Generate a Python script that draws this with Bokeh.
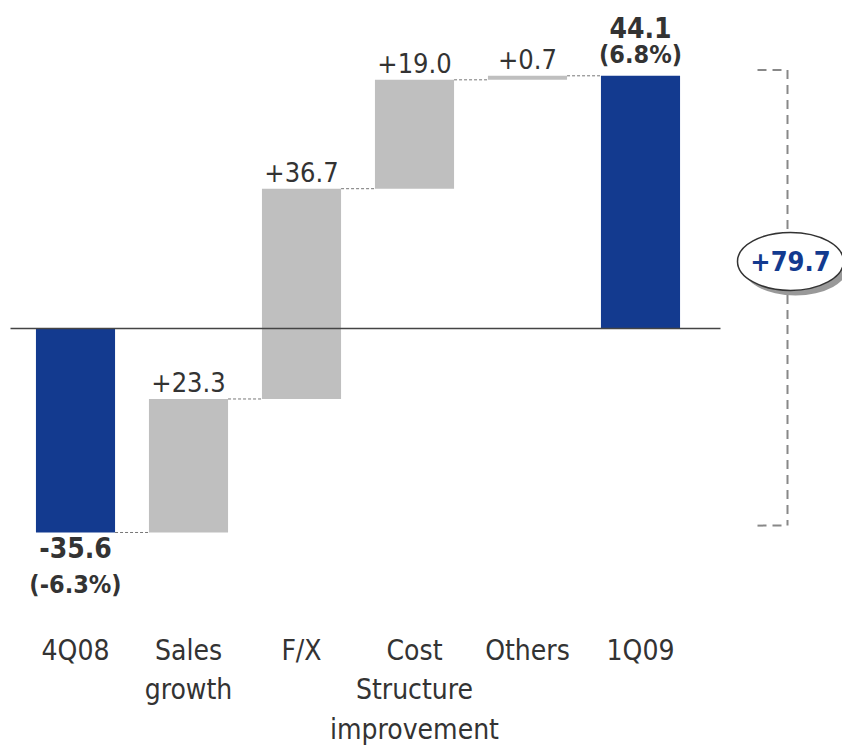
from bokeh.plotting import figure
from bokeh.models import Range1d
from bokeh.embed import file_html
from bokeh.resources import INLINE
from bokeh.core.properties import value

# ---- data ----
categories = ["4Q08", "Sales\ngrowth", "F/X", "Cost\nStructure\nimprovement", "Others", "1Q09"]
amounts = [-35.6, 23.3, 36.7, 19.0, 0.7, 44.1]
kinds = ["total", "delta", "delta", "delta", "delta", "total"]
value_labels = ["-35.6", "+23.3", "+36.7", "+19.0", "+0.7", "44.1"]
pct_labels = ["(-6.3%)", "", "", "", "", "(6.8%)"]
total_change_label = "+79.7"

BLUE = "#133a8f"
GREY = "#bfbfbf"
TXT = "#333333"
FONT = "'DejaVu Sans Condensed', 'Open Sans', sans-serif"

# ---- waterfall geometry ----
xs = list(range(len(categories)))
bottoms, tops, ends = [], [], []
running = 0.0
for a, k in zip(amounts, kinds):
    if k == "total":
        b, t = min(0, a), max(0, a)
        running = a
    else:
        b, t = running, running + a
        running = running + a
    bottoms.append(b)
    tops.append(t)
    ends.append(running)
colors = [BLUE if k == "total" else GREY for k in kinds]

# scale: ~113 px per category, ~5.73 px per unit
PX_X = 113.0
PX_Y = 5.73
x0 = -75 / PX_X
y_top = 328 / PX_Y

p = figure(width=842, height=745, output_backend="svg", toolbar_location=None,
           x_range=Range1d(x0, x0 + 842 / PX_X),
           y_range=Range1d(y_top - 745 / PX_Y, y_top),
           min_border=0, x_axis_location=None, y_axis_location=None)
p.outline_line_color = None
p.grid.visible = False
p.background_fill_color = "white"
p.border_fill_color = "white"

BW = 0.70
p.vbar(x=xs, bottom=bottoms, top=tops, width=BW, color=colors, line_color=None)

# zero line
p.segment(x0=[x0 + 10 / PX_X], x1=[x0 + 720 / PX_X], y0=[0], y1=[0],
          line_color="#444444", line_width=1.5)

# connectors
cx0 = [i + BW / 2 for i in xs[:-1]]
cx1 = [i + 1 - BW / 2 for i in xs[:-1]]
p.segment(x0=cx0, x1=cx1, y0=ends[:-1], y1=ends[:-1],
          line_color="#777777", line_width=1, line_dash="3 2")

# delta labels
d_idx = [i for i, k in enumerate(kinds) if k == "delta"]
p.text(x=[xs[i] for i in d_idx], y=[tops[i] for i in d_idx],
       text=[value_labels[i] for i in d_idx], text_align="center",
       text_baseline="bottom", y_offset=-7, text_font=value(FONT),
       text_font_size="27px", text_color=TXT)

# total labels
pos_tot = [i for i, k in enumerate(kinds) if k == "total" and amounts[i] >= 0]
neg_tot = [i for i, k in enumerate(kinds) if k == "total" and amounts[i] < 0]
p.text(x=[xs[i] for i in pos_tot], y=[tops[i] for i in pos_tot],
       text=[pct_labels[i] for i in pos_tot], text_align="center",
       text_baseline="bottom", y_offset=-7, text_font=value(FONT),
       text_font_size="25px", text_font_style="bold", text_color=TXT)
p.text(x=[xs[i] for i in pos_tot], y=[tops[i] for i in pos_tot],
       text=[value_labels[i] for i in pos_tot], text_align="center",
       text_baseline="bottom", y_offset=-38, text_font=value(FONT),
       text_font_size="28px", text_font_style="bold", text_color=TXT)
p.text(x=[xs[i] for i in neg_tot], y=[bottoms[i] for i in neg_tot],
       text=[value_labels[i] for i in neg_tot], text_align="center",
       text_baseline="top", y_offset=5, text_font=value(FONT),
       text_font_size="28px", text_font_style="bold", text_color=TXT)
p.text(x=[xs[i] for i in neg_tot], y=[bottoms[i] for i in neg_tot],
       text=[pct_labels[i] for i in neg_tot], text_align="center",
       text_baseline="top", y_offset=38, text_font=value(FONT),
       text_font_size="25px", text_font_style="bold", text_color=TXT)

# category labels
cat_y = y_top - 633 / PX_Y
p.text(x=xs, y=[cat_y] * len(xs), text=categories, text_align="center",
       text_baseline="top", text_font=value(FONT), text_font_size="28px",
       text_color=TXT, text_line_height=1.2)

# bracket showing total change
bx = x0 + 787 / PX_X
btick = x0 + 757 / PX_X
b_top = tops[-1] + 1
b_bot = bottoms[0] + 1.2
p.segment(x0=[bx, btick, btick], x1=[bx, bx, bx], y0=[b_top, b_top, b_bot],
          y1=[b_bot, b_top, b_bot], line_color="#888888", line_width=2,
          line_dash="9 6")

ey = b_bot + (b_top - b_bot) * 0.58
ex = x0 + 790 / PX_X
p.ellipse(x=[ex + 5 / PX_X], y=[ey - 5 / PX_Y], width=106, height=58,
          width_units="screen", height_units="screen",
          fill_color="#999999", line_color=None)
p.ellipse(x=[ex], y=[ey], width=106, height=58,
          width_units="screen", height_units="screen",
          fill_color="white", line_color="#333333", line_width=1.5)
p.text(x=[ex], y=[ey], text=[total_change_label], text_align="center",
       text_baseline="middle", text_font=value(FONT), text_font_size="27px",
       text_font_style="bold", text_color=BLUE)

open("out.html", "w").write(file_html(p, INLINE))
